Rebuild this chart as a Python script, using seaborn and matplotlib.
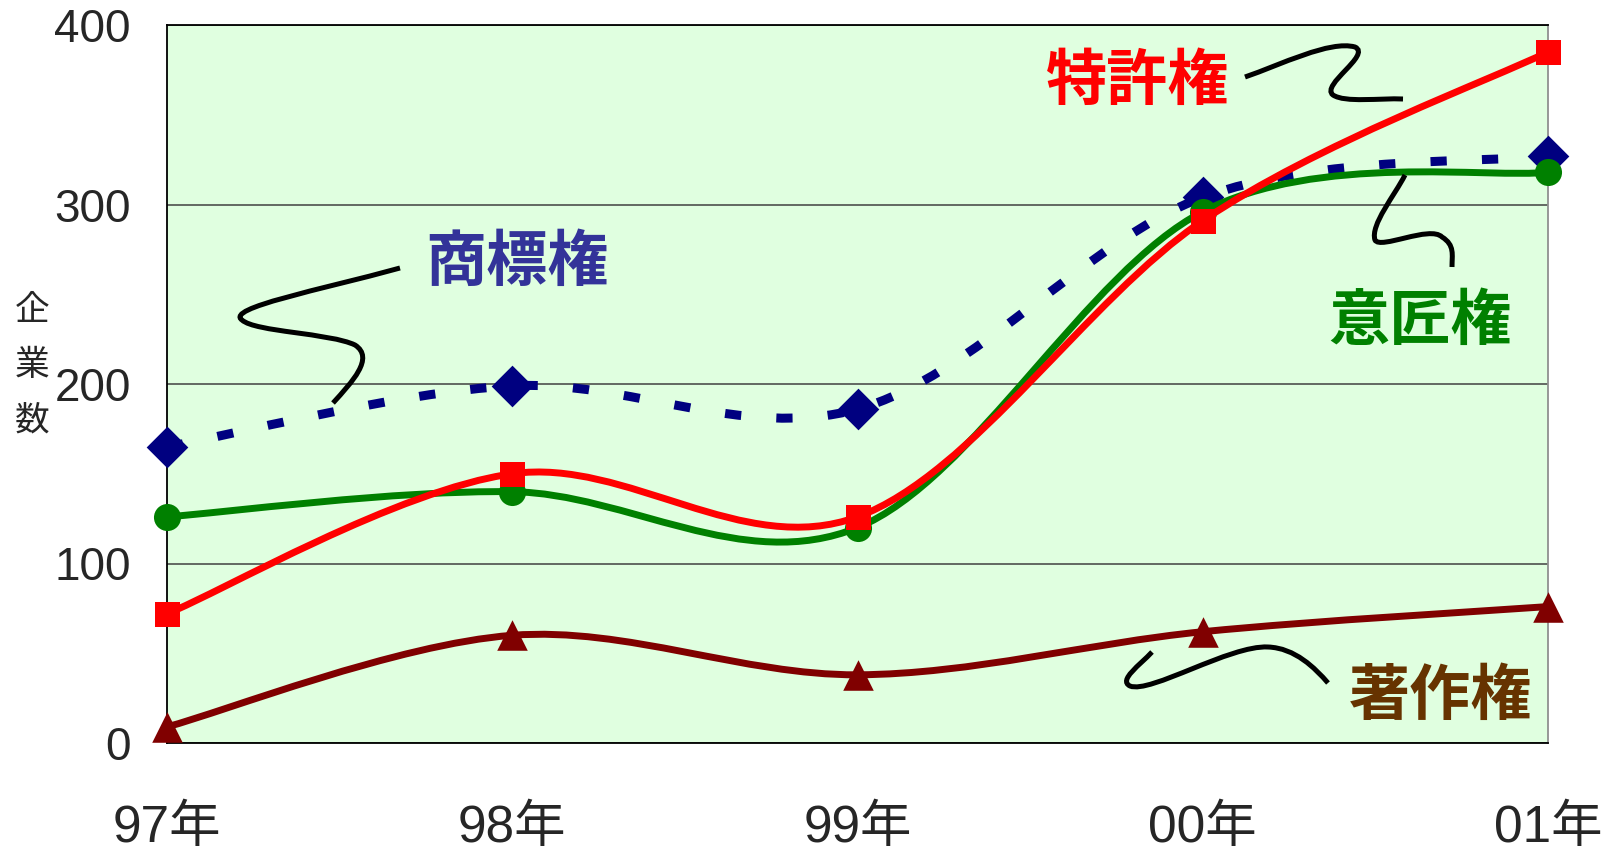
import matplotlib
matplotlib.use("Agg")
import matplotlib.pyplot as plt
from matplotlib.path import Path
from matplotlib.patches import PathPatch
import seaborn as sns

# --- data ---
years = ["97年", "98年", "99年", "00年", "01年"]
trademark = [165, 199, 186, 304, 327]   # 商標権
design = [126, 140, 120, 296, 318]      # 意匠権
patent = [72, 150, 126, 291, 385]       # 特許権
copyright_ = [9, 60, 38, 62, 76]        # 著作権

sns.set_style("white")
plt.rcParams['font.family'] = ['Liberation Sans', 'Noto Sans CJK JP', 'DejaVu Sans']

W, H = 1604, 852
fig = plt.figure(figsize=(W / 100, H / 100), dpi=100)
L, R, T, B = 167, 1548, 25, 743
ax = fig.add_axes([L / W, 1 - B / H, (R - L) / W, (B - T) / H])
ax.set_facecolor('#E0FFE0')


def smooth_path(xs, ys):
    # Excel-like smoothed line: cubic Bezier through the data points
    verts = [(xs[0], ys[0])]
    codes = [Path.MOVETO]
    n = len(xs)
    for i in range(n - 1):
        x0, y0, x1, y1 = xs[i], ys[i], xs[i + 1], ys[i + 1]
        xp, yp = (xs[i - 1], ys[i - 1]) if i > 0 else (x0, y0)
        xn, yn = (xs[i + 2], ys[i + 2]) if i + 2 < n else (x1, y1)
        verts += [(x0 + (x1 - xp) / 6, y0 + (y1 - yp) / 6),
                  (x1 - (xn - x0) / 6, y1 - (yn - y0) / 6),
                  (x1, y1)]
        codes += [Path.CURVE4] * 3
    return Path(verts, codes)


xpos = list(range(len(years)))
series = [
    (trademark, '#000080', 'D', 450, (0, (1.8, 3.9)), 6.5),
    (design, '#008000', 'o', 380, '-', 5),
    (patent, '#FF0000', 's', 324, '-', 5),
    (copyright_, '#800000', '^', 484, '-', 5),
]
z = 3
for vals, col, mk, s, ls, lw in series:
    ax.add_patch(PathPatch(smooth_path(xpos, vals), fill=False, edgecolor=col,
                           lw=lw, linestyle=ls, capstyle='butt', zorder=z))
    sns.scatterplot(x=xpos, y=vals, marker=mk, s=s, color=col, linewidth=0,
                    ax=ax, zorder=z + 1, legend=False)
    z += 2
for coll in ax.collections:
    coll.set_clip_on(False)

ax.set_xlim(0, 4)
ax.set_ylim(0, 400)
ax.set_xticks(xpos)
ax.set_xticklabels(years, fontsize=37)
ax.set_yticks([0, 100, 200, 300, 400])
ax.set_yticklabels(['0', '100', '200', '300', '400'], fontsize=33)
ax.tick_params(axis='x', direction='in', length=11.5, width=1, color='#404040', pad=44)
ax.tick_params(axis='y', direction='in', length=9, width=1, color='#404040', pad=26)
ax.yaxis.grid(True, color='#404040', lw=1.1)
ax.set_axisbelow(True)
for side in ['left', 'bottom', 'top']:
    ax.spines[side].set_color('black')
    ax.spines[side].set_linewidth(1.3)
ax.spines['right'].set_color('#909090')
ax.spines['right'].set_linewidth(1.3)

fig.text(32 / W, 1 - 366 / H, "企\n業\n数", fontsize=25, ha='center', va='center',
         linespacing=1.75, family=['Noto Sans CJK JP'])


def to_ax(px, py):
    return ((px - L) / (R - L), (B - py) / (B - T))


labels = [
    ("特許権", '#FF0000', 1138, 82),
    ("商標権", '#333399', 517, 263),
    ("意匠権", '#008000', 1420, 322),
    ("著作権", '#663300', 1441, 697),
]
for txt, col, px, py in labels:
    ax.text(*to_ax(px, py), txt, transform=ax.transAxes, color=col, fontsize=44,
            fontweight='bold', ha='center', va='center',
            family=['Noto Sans CJK JP'], zorder=20)

# squiggly leader lines (reference pixel coords, cubic Bezier chains)
leaders = [
    [(400, 268), (320, 290), (225, 308), (242, 320), (255, 332), (330, 333), (355, 345),
     (375, 358), (352, 382), (333, 403)],
    [(1245, 77), (1280, 65), (1330, 40), (1355, 47), (1372, 55), (1320, 85), (1333, 95),
     (1345, 103), (1380, 98), (1403, 99)],
    [(1405, 175), (1395, 195), (1370, 225), (1375, 240), (1380, 250), (1430, 225), (1442, 237),
     (1455, 245), (1452, 255), (1452, 267)],
    [(1152, 652), (1140, 665), (1118, 680), (1130, 686), (1150, 694), (1230, 645), (1268, 647),
     (1295, 648), (1315, 668), (1328, 683)],
]
for pts in leaders:
    verts = [to_ax(*p) for p in pts]
    codes = [Path.MOVETO] + [Path.CURVE4] * (len(verts) - 1)
    ax.add_patch(PathPatch(Path(verts, codes), fill=False, edgecolor='black', lw=3.6,
                           transform=ax.transAxes, zorder=15, clip_on=False))

fig.savefig('out.png', dpi=100)
